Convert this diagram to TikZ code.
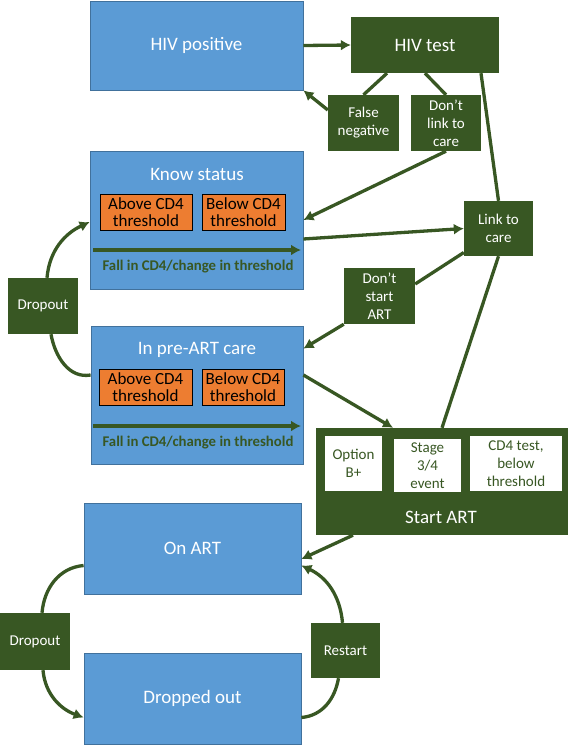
\documentclass[tikz,border=0pt]{standalone}
\usepackage{fontspec}
\setmainfont{Carlito}
\usetikzlibrary{arrows.meta}
\definecolor{artgreen}{RGB}{56,87,35}
\definecolor{stateblue}{RGB}{91,155,213}
\definecolor{stateedge}{RGB}{65,113,156}
\definecolor{cd4orange}{RGB}{237,125,49}

\begin{document}
\begin{tikzpicture}[x=1pt, y=-1pt,
		bluebox/.style={draw=stateedge, line width=0.8pt, fill=stateblue, inner sep=0pt},
		greenbox/.style={fill=artgreen, text=white, align=center, inner sep=0pt, font=\fontsize{15}{18}\selectfont},
		whitebox/.style={fill=white, text=artgreen, align=center, inner sep=0pt, font=\fontsize{15}{18}\selectfont},
		cd4box/.style={draw=black, line width=0.8pt, fill=cd4orange, align=center, inner sep=0pt, minimum height=36pt, font=\fontsize{17}{17.5}\selectfont},
		title/.style={text=white, font=\fontsize{19}{22}\selectfont},
		falltext/.style={text=artgreen, font=\bfseries\fontsize{14.8}{16}\selectfont},
		arr/.style={-{Latex[length=10pt,width=11pt]}, line width=3.3pt, draw=artgreen},
		conn/.style={line width=3.3pt, draw=artgreen},
	]
		\useasboundingbox (0,0) rectangle (568,745);

		% states
		\node[bluebox, minimum width=213pt, minimum height=89pt] (hivpos) at (196.5,45.5) {};
		\node[title] at (hivpos) {HIV positive};
		\node[bluebox, minimum width=213pt, minimum height=138pt] (know) at (196.5,220) {};
		\node[title] (knowtitle) at (197,174) {Know status};
		\node[cd4box, minimum width=92pt] (knowabove) at (146,212) {Above CD4\\threshold};
		\node[cd4box, minimum width=83pt] (knowbelow) at (243.5,212) {Below CD4\\threshold};
		\coordinate (knowfallA) at (93,250);
		\coordinate (knowfallB) at (301,250);
		\draw[arr] (knowfallA) -- (knowfallB);
		\node[falltext] (knowfall) at (198,267) {Fall in CD4/change in threshold};

		\node[bluebox, minimum width=212pt, minimum height=138pt] (preart) at (197,395) {};
		\node[title] (prearttitle) at (197,350) {In pre-ART care};
		\node[cd4box, minimum width=93pt] (preabove) at (145.5,387) {Above CD4\\threshold};
		\node[cd4box, minimum width=82pt] (prebelow) at (243,387) {Below CD4\\threshold};
		\coordinate (prefallA) at (93,426);
		\coordinate (prefallB) at (301,426);
		\draw[arr] (prefallA) -- (prefallB);
		\node[falltext] (prefall) at (198,443) {Fall in CD4/change in threshold};

		\node[bluebox, minimum width=217pt, minimum height=91pt] (onart) at (192.5,548.5) {};
		\node[title] at (onart) {On ART};
		\node[bluebox, minimum width=217pt, minimum height=91pt] (dropped) at (192.5,698.5) {};
		\node[title] at (dropped) {Dropped out};

		% transitions
		\node[greenbox, minimum width=148pt, minimum height=56pt, font=\fontsize{19}{22}\selectfont] (hivtest) at (425,45) {HIV test};
		\node[greenbox, minimum width=71pt, minimum height=56pt] (falseneg) at (363.5,123) {False\\negative};
		\node[greenbox, minimum width=70pt, minimum height=56pt] (nolink) at (446,123) {Don’t\\link to\\care};
		\node[greenbox, minimum width=69pt, minimum height=55pt] (linkcare) at (498.5,228.5) {Link to\\care};
		\node[greenbox, minimum width=71pt, minimum height=56pt] (nostart) at (379.5,296) {Don’t\\start\\ART};
		\node[greenbox, minimum width=70pt, minimum height=56pt] (dropA) at (43,306) {Dropout};
		\node[greenbox, minimum width=252pt, minimum height=107pt] (startart) at (442,481.5) {};
		\node[title] (starttitle) at (441,517) {Start ART};
		\node[whitebox, minimum width=57pt, minimum height=55pt] (optb) at (353.5,463.5) {Option\\B+};
		\node[whitebox, minimum width=67pt, minimum height=53pt] (stage) at (427.5,465.5) {Stage\\3/4\\event};
		\node[whitebox, minimum width=92pt, minimum height=55pt] (cd4test) at (516,463.5) {CD4 test,\\below\\threshold};
		\node[greenbox, minimum width=70pt, minimum height=57pt] (dropB) at (35,641.5) {Dropout};
		\node[greenbox, minimum width=69pt, minimum height=55pt] (restart) at (345.5,650.5) {Restart};

		% connectors
		\draw[arr] (hivpos.east) -- (hivtest.west);
		\draw[conn] ([xshift=-38pt]hivtest.south) -- (falseneg.north);
		\draw[conn] (hivtest.south) -- (nolink.north);
		\draw[conn] ([xshift=56pt]hivtest.south) -- (linkcare.north);
		\draw[arr] ([yshift=13pt]falseneg.west) -- (hivpos.south east);
		\draw[arr] (nolink.south) -- (know.east);
		\draw[arr] ([yshift=-19pt]know.east) -- (linkcare.west);
		\draw[conn] ([yshift=-24pt]linkcare.west) -- ([yshift=12pt]nostart.east);
		\draw[arr] (nostart.south west) -- ([yshift=-23pt]preart.north east);
		\draw[conn] (linkcare.south) -- (startart.north);
		\draw[arr] ([yshift=20pt]preart.east) -- ([xshift=-49pt]startart.north);
		\draw[arr] ([xshift=4pt]dropA.north) to[out=85, in=205] ([yshift=-2pt]know.west);
		\draw[conn] ([xshift=8pt]dropA.south) to[out=-80, in=190] ([yshift=20pt]preart.west);
		\draw[arr] ([xshift=-89pt]startart.south) -- ([yshift=-10.5pt]onart.east);
		\draw[conn] ([yshift=-17pt]onart.west) to[out=185, in=85] ([xshift=7pt]dropB.north);
		\draw[arr] ([xshift=8pt]dropB.south) to[out=-85, in=160] ([yshift=-19pt]dropped.west);
		\draw[conn] ([yshift=-19pt]dropped.east) to[out=5, in=-100] ([xshift=-7pt]restart.south);
		\draw[arr] ([xshift=-3pt]restart.north) to[out=95, in=-25] ([yshift=-17pt]onart.east);
	\end{tikzpicture}
\end{document}
